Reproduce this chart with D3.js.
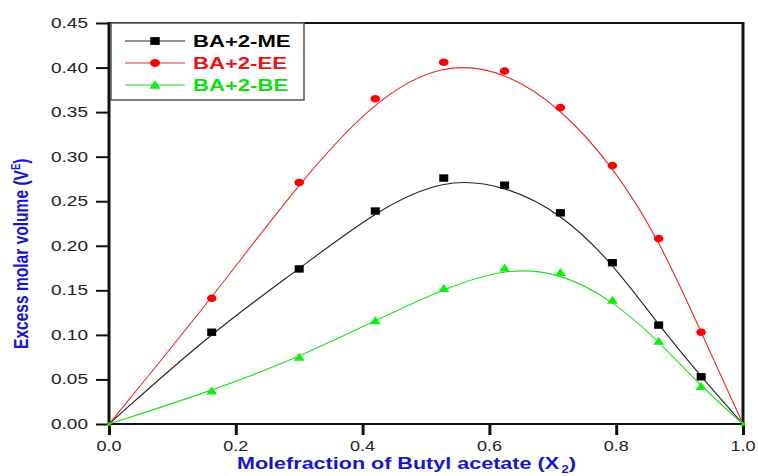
<!DOCTYPE html>
<html><head><meta charset="utf-8">
<script src="https://cdn.jsdelivr.net/npm/d3@7"></script>
<style>body{margin:0;background:#fff}svg{display:block}</style>
</head><body><svg id="c" width="758" height="476"></svg>
<script>
const xValues = [0, 0.162, 0.300, 0.420, 0.528, 0.624, 0.712, 0.794, 0.867, 0.934, 1.0];
const seriesNames = ["BA+2-ME", "BA+2-EE", "BA+2-BE"];
const meValues = [0, 0.103, 0.174, 0.239, 0.276, 0.268, 0.237, 0.181, 0.111, 0.053, 0];
const eeValues = [0, 0.141, 0.271, 0.365, 0.406, 0.396, 0.355, 0.290, 0.208, 0.103, 0];
const beValues = [0, 0.037, 0.075, 0.116, 0.152, 0.175, 0.170, 0.139, 0.093, 0.042, 0];
const xTicks = [0, 0.2, 0.4, 0.6, 0.8, 1.0];
const yTicks = [0, 0.05, 0.10, 0.15, 0.20, 0.25, 0.30, 0.35, 0.40, 0.45];

const SX = 1.3; // horizontal stretch of the original picture
const FONT = "Liberation Sans, Arial, sans-serif";
const svg = d3.select("#c");
const L = 109, R = 743, T = 23, B = 424;
const x = d3.scaleLinear().domain([0, 1]).range([L, R]);
const y = d3.scaleLinear().domain([0, 0.45]).range([B, T]);

const series = [
  {name: seriesNames[0], vals: meValues, line: "#222", fill: "#000", shape: "square", text: "#000"},
  {name: seriesNames[1], vals: eeValues, line: "#e82a2a", fill: "#ff0000", shape: "circle", text: "#ee1111"},
  {name: seriesNames[2], vals: beValues, line: "#22dd22", fill: "#11ee11", shape: "triangle", text: "#11dd11"}
];

function marker(g, shape, cx, cy, fill, s) {
  s = s || 1;
  if (shape === "square") {
    g.append("rect").attr("x", cx - 4.5*s).attr("y", cy - 3.7*s).attr("width", 9*s).attr("height", 7.4*s).attr("fill", fill);
  } else if (shape === "circle") {
    g.append("ellipse").attr("cx", cx).attr("cy", cy).attr("rx", 4.8*s).attr("ry", 3.8*s).attr("fill", fill);
  } else {
    g.append("path").attr("d", `M${cx},${cy-4.5*s}L${cx+5.5*s},${cy+3.5*s}L${cx-5.5*s},${cy+3.5*s}Z`).attr("fill", fill);
  }
}

// Axes ticks via d3 axes
const axisY = d3.axisLeft(y).tickValues(yTicks).tickSize(13).tickFormat(d3.format(".2f"));
const axisX = d3.axisBottom(x).tickValues(xTicks).tickSize(11).tickFormat(d3.format(".1f"));

const gy = svg.append("g").attr("transform", `translate(${L},0)`).call(axisY);
gy.select(".domain").remove();
gy.selectAll(".tick line").attr("stroke", "#111").attr("stroke-width", 2);
gy.selectAll(".tick text").remove();

const gx = svg.append("g").attr("transform", `translate(0,${B})`).call(axisX);
gx.select(".domain").remove();
gx.selectAll(".tick line").attr("stroke", "#111").attr("stroke-width", 3);
gx.selectAll(".tick text").remove();

// tick labels (horizontally stretched like the original)
yTicks.forEach(v => {
  svg.append("text").attr("transform", `translate(88,${y(v)+5}) scale(${SX},1)`)
    .attr("text-anchor", "end").attr("font-family", FONT)
    .attr("font-size", 14).attr("fill", "#222")
    .attr("textLength", 37 / SX).attr("lengthAdjust", "spacingAndGlyphs")
    .text(d3.format(".2f")(v));
});
xTicks.forEach(v => {
  svg.append("text").attr("transform", `translate(${x(v)},451) scale(${SX},1)`)
    .attr("text-anchor", "middle").attr("font-family", FONT)
    .attr("font-size", 14).attr("fill", "#222")
    .attr("textLength", 25 / SX).attr("lengthAdjust", "spacingAndGlyphs")
    .text(d3.format(".1f")(v));
});

// frame lines
svg.append("line").attr("x1", L).attr("x2", R).attr("y1", T).attr("y2", T).attr("stroke", "#111").attr("stroke-width", 2);
svg.append("line").attr("x1", R).attr("x2", R).attr("y1", T-1).attr("y2", B).attr("stroke", "#111").attr("stroke-width", 3);
svg.append("line").attr("x1", L).attr("x2", L).attr("y1", T-1).attr("y2", B+1).attr("stroke", "#111").attr("stroke-width", 3);
svg.append("line").attr("x1", L).attr("x2", R+1).attr("y1", B).attr("y2", B).attr("stroke", "#111").attr("stroke-width", 2.2);

// curves
const lineGen = d3.line().x(d => x(d[0])).y(d => y(d[1])).curve(d3.curveBasis);
series.forEach(s => {
  const pts = xValues.map((xv, i) => [xv, s.vals[i]]);
  svg.append("path").attr("d", lineGen(pts)).attr("fill", "none").attr("stroke", s.line).attr("stroke-width", 1.1);
});
series.forEach(s => {
  const g = svg.append("g");
  xValues.forEach((xv, i) => {
    const end = (i === 0 || i === xValues.length - 1);
    if (end && s.shape !== "triangle") return;
    marker(g, s.shape, x(xv), y(s.vals[i]), s.fill, end ? 0.5 : 1);
  });
});

// legend
svg.append("rect").attr("x", 111).attr("y", 23).attr("width", 193).attr("height", 77)
  .attr("fill", "#fff").attr("stroke", "#555").attr("stroke-width", 1.5);
series.forEach((s, i) => {
  const ly = 41 + i * 22;
  svg.append("line").attr("x1", 125).attr("x2", 185).attr("y1", ly).attr("y2", ly).attr("stroke", s.line).attr("stroke-width", 1);
  marker(svg, s.shape, 155, ly, s.fill, 1.05);
  svg.append("text").attr("transform", `translate(193,${ly+6}) scale(${SX},1)`)
    .attr("font-family", FONT).attr("font-weight", "bold")
    .attr("font-size", 17).attr("fill", s.text).text(s.name);
});

// axis titles
const xt = svg.append("text").attr("transform", `translate(237,469) scale(${SX},1)`)
  .attr("text-anchor", "start").attr("font-family", FONT)
  .attr("font-weight", "bold").attr("font-size", 17).attr("fill", "#1616d2");
xt.append("tspan").attr("textLength", 322 / SX).attr("lengthAdjust", "spacingAndGlyphs").text("Molefraction of Butyl acetate (X");
xt.append("tspan").attr("font-size", 10).attr("dx", 2).attr("dy", 4).text("2");
xt.append("tspan").attr("dy", -4).text(")");

const yt = svg.append("text").attr("transform", `translate(28,349) scale(1.3,1) rotate(-90)`)
  .attr("text-anchor", "start").attr("font-family", FONT)
  .attr("font-weight", "bold").attr("font-size", 15.5).attr("fill", "#1616d2");
yt.append("tspan").attr("textLength", 179).attr("lengthAdjust", "spacingAndGlyphs").text("Excess molar volume (V");
yt.append("tspan").attr("font-size", 9.5).attr("dy", -6).text("E");
yt.append("tspan").attr("dy", 6).text(")");
</script></body></html>
